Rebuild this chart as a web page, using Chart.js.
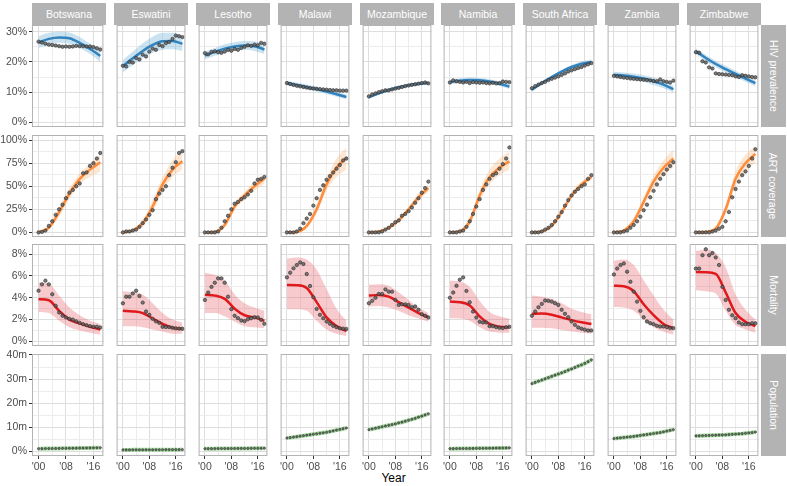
<!DOCTYPE html>
<html>
<head>
<meta charset="utf-8">
<script src="https://cdn.jsdelivr.net/npm/chart.js@4.4.1/dist/chart.umd.min.js"></script>
<style>
  body { margin: 0; background: #fff; font-family: 'Liberation Sans', Arial, sans-serif; }
  #wrap { position: relative; width: 787px; height: 486px; overflow: hidden; }
  #wrap canvas { position: absolute; }
  .strip { position: absolute; background: #b3b3b3; color: #fff; font-size: 10.5px;
           display: flex; align-items: center; justify-content: center; white-space: nowrap; }
  .strip.side span { transform: rotate(90deg); display: block; }
  #xtitle { position: absolute; left: 0; width: 787px; text-align: center; top: 471px; font-size: 12px; color: #000; }
</style>
</head>
<body>
<div id="wrap"><div id="xtitle">Year</div></div>
<script>
const countries = ['Botswana', 'Eswatini', 'Lesotho', 'Malawi', 'Mozambique', 'Namibia', 'South Africa', 'Zambia', 'Zimbabwe'];
const rowTitles = ['HIV prevalence', 'ART coverage', 'Mortality', 'Population'];

const obsYears = [2000, 2001, 2002, 2003, 2004, 2005, 2006, 2007, 2008, 2009, 2010, 2011, 2012, 2013, 2014, 2015, 2016, 2017, 2018];
const fitYears = [2000, 2003, 2006, 2009, 2012, 2015, 2018];

const xTicks = [2000, 2004, 2008, 2012, 2016];
const xTickLabels = ["'00", '', "'08", '', "'16"];

const hivTicks = [0, 5, 10, 15, 20, 25, 30];
const hivTickLabels = ['0%', '', '10%', '', '20%', '', '30%'];
const artTicks = [0, 12.5, 25, 37.5, 50, 62.5, 75, 87.5, 100];
const artTickLabels = ['0%', '', '25%', '', '50%', '', '75%', '', '100%'];
const mortTicks = [0, 1, 2, 3, 4, 5, 6, 7, 8];
const mortTickLabels = ['0%', '', '2%', '', '4%', '', '6%', '', '8%'];
const popTicks = [0, 5, 10, 15, 20, 25, 30, 35, 40];
const popTickLabels = ['0%', '', '10m', '', '20m', '', '30m', '', '40m'];

// HIV prevalence (%)
const hivObs = [
  [26.7, 26.4, 26.0, 25.7, 25.6, 25.4, 25.2, 25.0, 25.1, 25.0, 25.1, 25.3, 25.2, 25.2, 25.1, 25.1, 24.9, 24.5, 24.1],
  [18.7, 18.5, 20.0, 19.8, 21.3, 20.8, 22.4, 21.8, 23.4, 24.4, 24.0, 25.6, 25.2, 26.2, 26.6, 27.6, 28.7, 28.5, 28.2],
  [22.9, 22.5, 23.3, 23.5, 23.2, 23.0, 23.4, 24.0, 23.7, 24.3, 24.0, 24.6, 25.0, 25.5, 25.3, 25.7, 25.5, 26.3, 26.0],
  [13.0, 12.7, 12.4, 12.1, 11.9, 11.7, 11.5, 11.3, 11.2, 11.1, 11.0, 10.9, 10.8, 10.7, 10.6, 10.6, 10.5, 10.5, 10.5],
  [8.6, 9.2, 9.6, 10.0, 10.3, 10.6, 10.6, 10.9, 11.2, 11.4, 11.7, 12.0, 12.2, 12.4, 12.6, 12.8, 13.0, 13.2, 12.9],
  [13.2, 13.9, 13.6, 13.4, 13.2, 13.4, 13.0, 13.3, 13.2, 13.1, 13.2, 13.0, 12.9, 13.1, 12.9, 13.0, 13.5, 13.4, 13.3],
  [11.3, 12.0, 12.5, 13.0, 13.4, 14.0, 14.4, 14.8, 15.2, 15.7, 16.2, 16.8, 17.2, 17.6, 18.0, 18.3, 18.8, 19.2, 19.6],
  [15.4, 15.2, 15.0, 14.8, 14.7, 14.5, 14.4, 14.3, 14.2, 14.1, 14.0, 13.9, 13.7, 13.6, 14.2, 13.6, 13.4, 13.2, 13.8],
  [23.2, 23.0, 20.2, 19.8, 18.2, 17.8, 16.2, 16.0, 15.9, 15.8, 15.7, 15.6, 15.2, 15.0, 15.6, 15.4, 15.2, 15.0, 14.9]
];
const hivFit = [
  [26.4, 27.6, 28.1, 27.8, 26.3, 24.3, 22.0],
  [18.6, 21.2, 23.6, 25.6, 26.8, 26.9, 26.0],
  [22.1, 23.3, 24.4, 25.1, 25.4, 25.2, 24.1],
  [13.0, 12.4, 11.7, 11.0, 10.2, 9.3, 8.4],
  [8.3, 9.6, 10.7, 11.6, 12.3, 12.8, 13.0],
  [13.3, 13.8, 14.0, 13.9, 13.5, 12.8, 11.8],
  [10.8, 13.0, 15.0, 16.8, 18.3, 19.4, 20.0],
  [15.7, 15.5, 15.1, 14.5, 13.6, 12.5, 11.0],
  [23.5, 21.3, 19.3, 17.6, 16.0, 14.5, 13.0]
];
const hivLo = [
  [24.6, 25.8, 26.3, 26.0, 24.6, 22.6, 20.0],
  [16.5, 19.0, 21.2, 23.0, 24.0, 24.2, 23.6],
  [20.8, 22.0, 23.0, 23.7, 24.0, 23.6, 22.6],
  [12.3, 11.7, 11.0, 10.2, 9.4, 8.5, 7.6],
  [7.8, 9.1, 10.2, 11.1, 11.8, 12.3, 12.4],
  [12.5, 13.0, 13.2, 13.1, 12.7, 12.0, 11.0],
  [10.2, 12.4, 14.4, 16.2, 17.6, 18.7, 19.2],
  [14.7, 14.5, 14.1, 13.4, 12.4, 11.3, 9.9],
  [22.5, 20.3, 18.2, 16.5, 14.9, 13.4, 11.9]
];
const hivHi = [
  [28.5, 29.6, 30.0, 29.7, 28.2, 26.0, 23.6],
  [20.6, 23.4, 26.2, 28.3, 29.6, 29.6, 28.5],
  [23.4, 24.6, 25.8, 26.5, 26.9, 26.8, 25.6],
  [13.8, 13.2, 12.5, 11.8, 11.0, 10.2, 9.2],
  [8.8, 10.1, 11.2, 12.1, 12.8, 13.3, 13.6],
  [14.1, 14.6, 14.8, 14.7, 14.3, 13.6, 12.7],
  [11.4, 13.6, 15.6, 17.4, 19.0, 20.1, 20.8],
  [16.7, 16.5, 16.2, 15.6, 14.8, 13.7, 12.2],
  [24.5, 22.3, 20.4, 18.7, 17.1, 15.6, 14.1]
];

// ART coverage (%)
const artObs = [
  [0, 0.5, 2, 7, 12, 19, 25, 30, 37, 43, 46, 50, 53, 64, 65, 72, 75, 80, 86],
  [0, 1, 1, 2, 3, 6, 10, 14, 19, 24, 36, 42, 46, 50, 62, 70, 76, 86, 88],
  [0, 0, 0, 0, 1, 5, 12, 18, 25, 31, 33, 36, 38, 41, 45, 53, 57, 58, 60],
  [0, 0, 0, 1, 4, 10, 15, 20, 29, 37, 46, 51, 57, 61, 65, 69, 73, 78, 80],
  [0, 0, 0, 0, 1, 3, 5, 8, 11, 13, 18, 20, 23, 27, 32, 37, 43, 48, 55],
  [0, 0, 0, 1, 2, 6, 12, 20, 28, 36, 46, 52, 58, 62, 64, 69, 74, 80, 92],
  [0, 0, 0, 1, 3, 5, 8, 12, 17, 22, 29, 35, 40, 44, 47, 50, 52, 58, 62],
  [0, 0, 0, 1, 2, 5, 8, 12, 17, 24, 30, 38, 45, 52, 58, 63, 68, 72, 76],
  [0, 0, 0, 0, 0, 1, 2, 4, 6, 12, 22, 38, 47, 55, 62, 66, 72, 80, 90]
];
const artFit = [
  [0, 5, 22, 42, 58, 68, 76],
  [0, 2, 10, 28, 52, 68, 77],
  [0, 0.5, 8, 28, 40, 50, 58],
  [0, 0.5, 7, 25, 52, 70, 81],
  [0, 1, 5, 13, 25, 38, 48],
  [0, 1, 12, 40, 60, 70, 77],
  [0, 1, 7, 22, 40, 52, 60],
  [0, 2, 12, 33, 55, 70, 80],
  [0, 0.5, 4, 25, 58, 75, 85]
];
const artLo = [
  [0, 3, 17, 36, 52, 60, 66],
  [0, 1, 6, 22, 44, 60, 68],
  [0, 0, 5, 24, 36, 45, 53],
  [0, 0, 4, 20, 45, 60, 68],
  [0, 0, 3, 11, 22, 34, 44],
  [0, 0, 8, 34, 52, 62, 68],
  [0, 0, 5, 20, 37, 49, 57],
  [0, 1, 8, 28, 48, 62, 70],
  [0, 0, 2, 20, 50, 66, 76]
];
const artHi = [
  [1, 8, 27, 48, 64, 75, 84],
  [1, 4, 14, 35, 60, 78, 90],
  [1, 2, 11, 32, 44, 55, 63],
  [1, 2, 10, 31, 59, 80, 92],
  [1, 2, 7, 15, 28, 42, 52],
  [1, 3, 16, 46, 68, 80, 88],
  [1, 2, 9, 24, 43, 55, 63],
  [1, 4, 16, 38, 62, 78, 90],
  [1, 2, 7, 30, 66, 84, 94]
];

// Mortality (%)
const mortObs = [
  [4.65, 5.23, 5.57, 5.23, 4.32, 3.26, 2.65, 2.35, 2.2, 2.07, 2.0, 1.84, 1.7, 1.58, 1.49, 1.4, 1.34, 1.34, 1.28],
  [3.5, 4.1, 4.1, 4.4, 4.65, 4.17, 3.56, 2.74, 2.44, 2.07, 1.84, 1.7, 1.34, 1.32, 1.31, 1.25, 1.2, 1.17, 1.16],
  [3.8, 4.48, 5.0, 5.38, 5.78, 5.78, 5.38, 4.1, 2.96, 2.35, 2.13, 1.92, 1.86, 2.04, 2.13, 2.22, 2.2, 1.98, 1.62],
  [5.87, 6.3, 6.7, 7.0, 7.24, 7.1, 6.18, 5.08, 4.05, 2.98, 2.44, 2.13, 1.83, 1.62, 1.43, 1.3, 1.2, 1.17, 1.14],
  [3.5, 3.72, 4.0, 4.35, 4.35, 4.77, 4.56, 4.56, 3.8, 3.34, 3.4, 3.4, 3.34, 3.13, 3.2, 2.9, 2.5, 2.35, 2.2],
  [4.0, 4.48, 5.1, 5.65, 5.87, 4.63, 3.59, 2.74, 2.2, 1.8, 1.74, 1.74, 1.4, 1.4, 1.31, 1.25, 1.22, 1.3, 1.34],
  [2.35, 2.74, 3.13, 3.44, 3.75, 3.72, 3.65, 3.5, 3.34, 2.9, 2.53, 2.22, 1.83, 1.52, 1.28, 1.17, 1.08, 1.0, 1.0],
  [6.14, 6.68, 7.0, 7.15, 6.39, 5.47, 4.56, 3.65, 2.8, 2.22, 1.83, 1.67, 1.58, 1.43, 1.37, 1.37, 1.31, 1.22, 1.22],
  [6.68, 6.68, 7.9, 8.45, 7.9, 8.1, 7.7, 7.0, 5.0, 3.8, 2.9, 2.4, 2.13, 1.74, 1.58, 1.58, 1.58, 1.67, 1.67]
];
const mortFit = [
  [3.87, 3.78, 2.8, 2.0, 1.65, 1.35, 1.1],
  [2.8, 2.75, 2.6, 2.1, 1.6, 1.25, 1.15],
  [4.27, 4.2, 3.9, 3.0, 2.4, 2.2, 1.9],
  [5.17, 5.15, 4.9, 3.6, 2.2, 1.4, 0.95],
  [4.2, 4.25, 4.1, 3.6, 3.1, 2.6, 2.2],
  [3.65, 3.6, 3.3, 2.3, 1.6, 1.35, 1.3],
  [2.53, 2.55, 2.45, 2.2, 1.95, 1.75, 1.6],
  [5.1, 5.05, 4.6, 3.4, 2.4, 1.6, 1.2],
  [6.37, 6.35, 6.2, 4.5, 2.6, 1.8, 1.4]
];
const mortLo = [
  [2.7, 2.6, 1.9, 1.3, 1.0, 0.8, 0.6],
  [1.4, 1.4, 1.3, 1.1, 0.9, 0.7, 0.7],
  [2.6, 2.6, 2.3, 1.8, 1.4, 1.3, 1.2],
  [2.95, 2.95, 2.8, 1.9, 1.1, 0.7, 0.5],
  [3.2, 3.25, 3.1, 2.8, 2.4, 2.1, 1.8],
  [2.13, 2.1, 1.9, 1.3, 0.9, 0.8, 0.8],
  [1.25, 1.25, 1.2, 1.05, 0.9, 0.8, 0.7],
  [3.16, 3.1, 2.8, 2.0, 1.3, 0.9, 0.6],
  [4.7, 4.6, 4.4, 2.8, 1.5, 1.1, 0.8]
];
const mortHi = [
  [5.4, 5.3, 4.2, 3.1, 2.4, 1.9, 1.6],
  [4.6, 4.5, 4.3, 3.5, 2.6, 2.0, 1.7],
  [6.3, 6.1, 5.6, 4.3, 3.5, 3.1, 2.8],
  [7.6, 7.7, 7.5, 6.6, 4.8, 3.0, 1.9],
  [5.2, 5.25, 5.1, 4.5, 3.8, 3.1, 2.6],
  [5.57, 5.5, 5.0, 3.7, 2.7, 2.3, 2.1],
  [4.2, 4.1, 3.9, 3.5, 3.0, 2.7, 2.5],
  [7.4, 7.5, 7.0, 5.6, 4.2, 2.9, 2.0],
  [8.3, 8.4, 8.1, 6.8, 4.3, 2.9, 2.0]
];

// Population (millions)
const popObs = [
  [1.10, 1.12, 1.14, 1.16, 1.18, 1.20, 1.22, 1.24, 1.26, 1.28, 1.30, 1.32, 1.34, 1.37, 1.40, 1.42, 1.45, 1.47, 1.50],
  [0.60, 0.61, 0.61, 0.62, 0.62, 0.63, 0.63, 0.64, 0.64, 0.65, 0.66, 0.66, 0.67, 0.68, 0.69, 0.69, 0.70, 0.71, 0.72],
  [1.10, 1.11, 1.12, 1.13, 1.14, 1.15, 1.16, 1.17, 1.18, 1.19, 1.20, 1.21, 1.22, 1.23, 1.24, 1.26, 1.27, 1.28, 1.30],
  [5.5, 5.7, 5.9, 6.1, 6.3, 6.5, 6.7, 6.9, 7.1, 7.3, 7.5, 7.7, 7.9, 8.2, 8.5, 8.8, 9.1, 9.4, 9.7],
  [9.0, 9.3, 9.6, 9.9, 10.2, 10.5, 10.8, 11.1, 11.4, 11.8, 12.1, 12.5, 12.9, 13.3, 13.7, 14.2, 14.6, 15.1, 15.6],
  [1.10, 1.12, 1.14, 1.16, 1.18, 1.19, 1.20, 1.22, 1.24, 1.25, 1.27, 1.29, 1.31, 1.33, 1.35, 1.37, 1.40, 1.42, 1.45],
  [28.1, 28.6, 29.1, 29.6, 30.1, 30.6, 31.1, 31.6, 32.1, 32.6, 33.1, 33.7, 34.2, 34.8, 35.4, 35.9, 36.5, 37.2, 38.0],
  [5.3, 5.45, 5.6, 5.75, 5.9, 6.05, 6.2, 6.4, 6.6, 6.8, 7.0, 7.2, 7.4, 7.6, 7.8, 8.1, 8.4, 8.7, 9.0],
  [6.4, 6.45, 6.5, 6.55, 6.6, 6.65, 6.7, 6.75, 6.8, 6.85, 6.95, 7.05, 7.15, 7.25, 7.35, 7.5, 7.65, 7.8, 8.0]
];

const rows = [
  { obs: hivObs, fit: hivFit, lo: hivLo, hi: hivHi, ticks: hivTicks, labels: hivTickLabels, min: -1.53, max: 32.2,
    line: '#3182bd', band: 'rgba(107,174,214,0.35)', dot: 1.7 },
  { obs: artObs, fit: artFit, lo: artLo, hi: artHi, ticks: artTicks, labels: artTickLabels, min: -5, max: 105.5,
    line: '#fd8d3c', band: 'rgba(253,174,107,0.3)', dot: 1.7 },
  { obs: mortObs, fit: mortFit, lo: mortLo, hi: mortHi, ticks: mortTicks, labels: mortTickLabels, min: -0.42, max: 8.93,
    line: '#e0191c', band: 'rgba(230,80,90,0.3)', dot: 1.7 },
  { obs: popObs, fit: null, lo: null, hi: null, ticks: popTicks, labels: popTickLabels, min: -1.93, max: 40.4,
    line: '#a6dba0', band: null, dot: 1.1 }
];

const FONT = "'Liberation Sans', Arial, sans-serif";
const PW = 74, PH = 102;
const colX = c => Math.round(32 + c * 81.875);
const rowY = r => Math.round(25 + r * 109.7);

const wrap = document.getElementById('wrap');

const panelBox = {
  id: 'panelBox',
  afterDraw(chart) {
    const a = chart.chartArea, ctx = chart.ctx;
    ctx.save();
    ctx.strokeStyle = '#b3b3b3';
    ctx.lineWidth = 1;
    ctx.strokeRect(a.left + 0.5, a.top + 0.5, a.right - a.left - 1, a.bottom - a.top - 1);
    ctx.restore();
  }
};

const xy = (xs, ys) => ys.map((v, i) => ({ x: xs[i], y: v }));

function makePanel(r, c) {
  const row = rows[r];
  const left = c === 0, bottom = r === 3;
  const padL = left ? 32 : 2, padR = 2, padT = 6, padB = bottom ? 22 : 6;
  const cv = document.createElement('canvas');
  cv.width = padL + PW + padR;
  cv.height = padT + PH + padB;
  cv.style.left = (colX(c) - padL) + 'px';
  cv.style.top = (rowY(r) - padT) + 'px';
  wrap.appendChild(cv);

  const datasets = [];
  if (row.fit) {
    datasets.push({ data: xy(fitYears, row.lo[c]), borderWidth: 0, pointRadius: 0,
      cubicInterpolationMode: 'monotone', fill: false, order: 3 });
    datasets.push({ data: xy(fitYears, row.hi[c]), borderWidth: 0, pointRadius: 0,
      cubicInterpolationMode: 'monotone', fill: '-1', backgroundColor: row.band, order: 2 });
    datasets.push({ data: xy(fitYears, row.fit[c]), borderColor: row.line, borderWidth: 2.5, pointRadius: 0,
      cubicInterpolationMode: 'monotone', fill: false, order: 1 });
  } else {
    datasets.push({ data: xy(obsYears, row.obs[c]), borderColor: row.line, borderWidth: 4, pointRadius: 0,
      fill: false, order: 1 });
  }
  datasets.push({ data: xy(obsYears, row.obs[c]), showLine: false, order: 0,
    pointRadius: row.dot, pointBorderWidth: 0.6,
    pointBackgroundColor: 'rgba(100,100,100,0.85)', pointBorderColor: '#2a2a2a' });

  const majorY = v => row.labels[row.ticks.indexOf(v)] !== '';
  const majorX = v => xTickLabels[xTicks.indexOf(v)] !== '';

  new Chart(cv, {
    type: 'line',
    data: { datasets },
    plugins: [panelBox],
    options: {
      responsive: false,
      animation: false,
      devicePixelRatio: 1,
      layout: { padding: { left: left ? 0 : 2, right: padR, top: padT, bottom: bottom ? 0 : 6 } },
      plugins: { legend: { display: false }, tooltip: { enabled: false } },
      scales: {
        x: {
          type: 'linear', min: 1998.1, max: 2018.9,
          afterBuildTicks: s => { s.ticks = xTicks.map(v => ({ value: v })); },
          afterFit: s => { s.height = bottom ? 22 : 0; s.paddingLeft = s.paddingRight = s.paddingTop = s.paddingBottom = 0; },
          border: { display: false },
          grid: {
            color: ctx => majorX(ctx.tick.value) ? '#dedede' : '#ececec',
            lineWidth: 1,
            drawTicks: bottom,
            tickLength: 3,
            tickColor: ctx => majorX(ctx.tick.value) ? '#333' : 'rgba(0,0,0,0)'
          },
          ticks: {
            display: bottom, autoSkip: false, maxRotation: 0, padding: 2,
            color: '#4d4d4d', font: { family: FONT, size: 10.5 },
            callback: v => xTickLabels[xTicks.indexOf(v)]
          }
        },
        y: {
          type: 'linear', min: row.min, max: row.max,
          afterBuildTicks: s => { s.ticks = row.ticks.map(v => ({ value: v })); },
          afterFit: s => { s.width = left ? 32 : 0; s.paddingLeft = s.paddingRight = s.paddingTop = s.paddingBottom = 0; },
          border: { display: false },
          grid: {
            color: ctx => majorY(ctx.tick.value) ? '#dedede' : '#ececec',
            lineWidth: 1,
            drawTicks: left,
            tickLength: 3,
            tickColor: ctx => majorY(ctx.tick.value) ? '#333' : 'rgba(0,0,0,0)'
          },
          ticks: {
            display: left, autoSkip: false, padding: 2,
            color: '#4d4d4d', font: { family: FONT, size: 10.5 },
            callback: v => row.labels[row.ticks.indexOf(v)]
          }
        }
      }
    }
  });
}

// top strips with country names
countries.forEach((name, c) => {
  const d = document.createElement('div');
  d.className = 'strip';
  d.style.cssText = `left:${colX(c)}px;top:3px;width:${PW}px;height:22px;`;
  d.textContent = name;
  wrap.appendChild(d);
});

// right strips with row titles
rowTitles.forEach((t, r) => {
  const d = document.createElement('div');
  d.className = 'strip side';
  d.style.cssText = `left:${colX(8) + PW}px;top:${rowY(r)}px;width:25px;height:${PH}px;`;
  d.innerHTML = `<span>${t}</span>`;
  wrap.appendChild(d);
});

for (let r = 0; r < 4; r++) {
  for (let c = 0; c < 9; c++) makePanel(r, c);
}
</script>
</body>
</html>
